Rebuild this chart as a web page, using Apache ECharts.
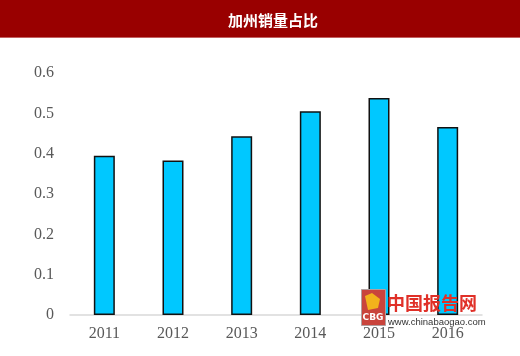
<!DOCTYPE html>
<html><head><meta charset="utf-8">
<script src="https://cdn.jsdelivr.net/npm/echarts@6/dist/echarts.min.js"></script>
<style>html,body{margin:0;padding:0;background:#fff}#c{width:520px;height:356px}</style>
</head><body><div id="c"></div>
<script>
const titleText = '加州销量占比';
const categories = ['2011','2012','2013','2014','2015','2016'];
const shareValues = [0.395, 0.383, 0.443, 0.505, 0.538, 0.466];
const yTicks = [0, 0.1, 0.2, 0.3, 0.4, 0.5, 0.6];
const watermarkName = '中国报告网';
const watermarkUrl = 'www.chinabaogao.com';

const chart = echarts.init(document.getElementById('c'), null, {renderer: 'canvas'});
chart.setOption({
  animation: false,
  backgroundColor: '#ffffff',
  graphic: [
    {type: 'rect', left: 0, top: 0, shape: {width: 520, height: 37}, style: {fill: '#990000'}, z: 10},
    {type: 'rect', left: 0, top: 37, shape: {width: 520, height: 1}, style: {fill: '#c26060'}, z: 10},
    {type: 'text', x: 273, y: 20, style: {text: titleText, fill: '#ffffff', font: 'bold 15px "Noto Sans CJK SC"', align: 'center', verticalAlign: 'middle'}, z: 11},
    {type: 'rect', left: 361, top: 289, shape: {width: 24, height: 36}, style: {fill: '#c9443c', stroke: '#b0a0a0', lineWidth: 1}, z: 5, silent: true},
    {type: 'polygon', shape: {points: [[365,296],[372,293],[380,299],[378,308],[368,310]]}, style: {fill: '#f2b21c'}, z: 6, silent: true},
    {type: 'text', x: 373, y: 318, style: {text: 'CBG', fill: '#ffffff', font: 'bold 9px "DejaVu Sans"', align: 'center', verticalAlign: 'middle'}, z: 6},
    {type: 'text', x: 387, y: 303, style: {text: watermarkName, fill: '#e03028', font: 'bold 18px "Noto Sans CJK SC"', align: 'left', verticalAlign: 'middle'}, z: 6},
    {type: 'text', x: 388, y: 322, style: {text: watermarkUrl, fill: '#333333', font: '9.5px "Liberation Sans"', align: 'left', verticalAlign: 'middle'}, z: 6}
  ],
  grid: {left: 70, right: 38, top: 73, bottom: 41},
  xAxis: {
    type: 'category', data: categories,
    axisLine: {show: true, lineStyle: {color: '#d9d9d9', width: 1.5}},
    axisTick: {show: false},
    axisLabel: {color: '#595959', fontFamily: 'Liberation Serif', fontSize: 16, margin: 11}
  },
  yAxis: {
    type: 'value', min: 0, max: 0.6, interval: 0.1,
    axisLine: {show: false}, axisTick: {show: false}, splitLine: {show: false},
    axisLabel: {color: '#595959', fontFamily: 'Liberation Serif', fontSize: 16, margin: 16,
      formatter: v => { const t = yTicks.find(x => Math.abs(x - v) < 1e-9); return t === 0 ? '0' : String(+t.toFixed(1)); }}
  },
  series: [{
    type: 'bar', data: shareValues, barWidth: 21,
    itemStyle: {color: '#00c8ff', borderColor: '#111111', borderWidth: 1.5}
  }]
});
</script></body></html>
